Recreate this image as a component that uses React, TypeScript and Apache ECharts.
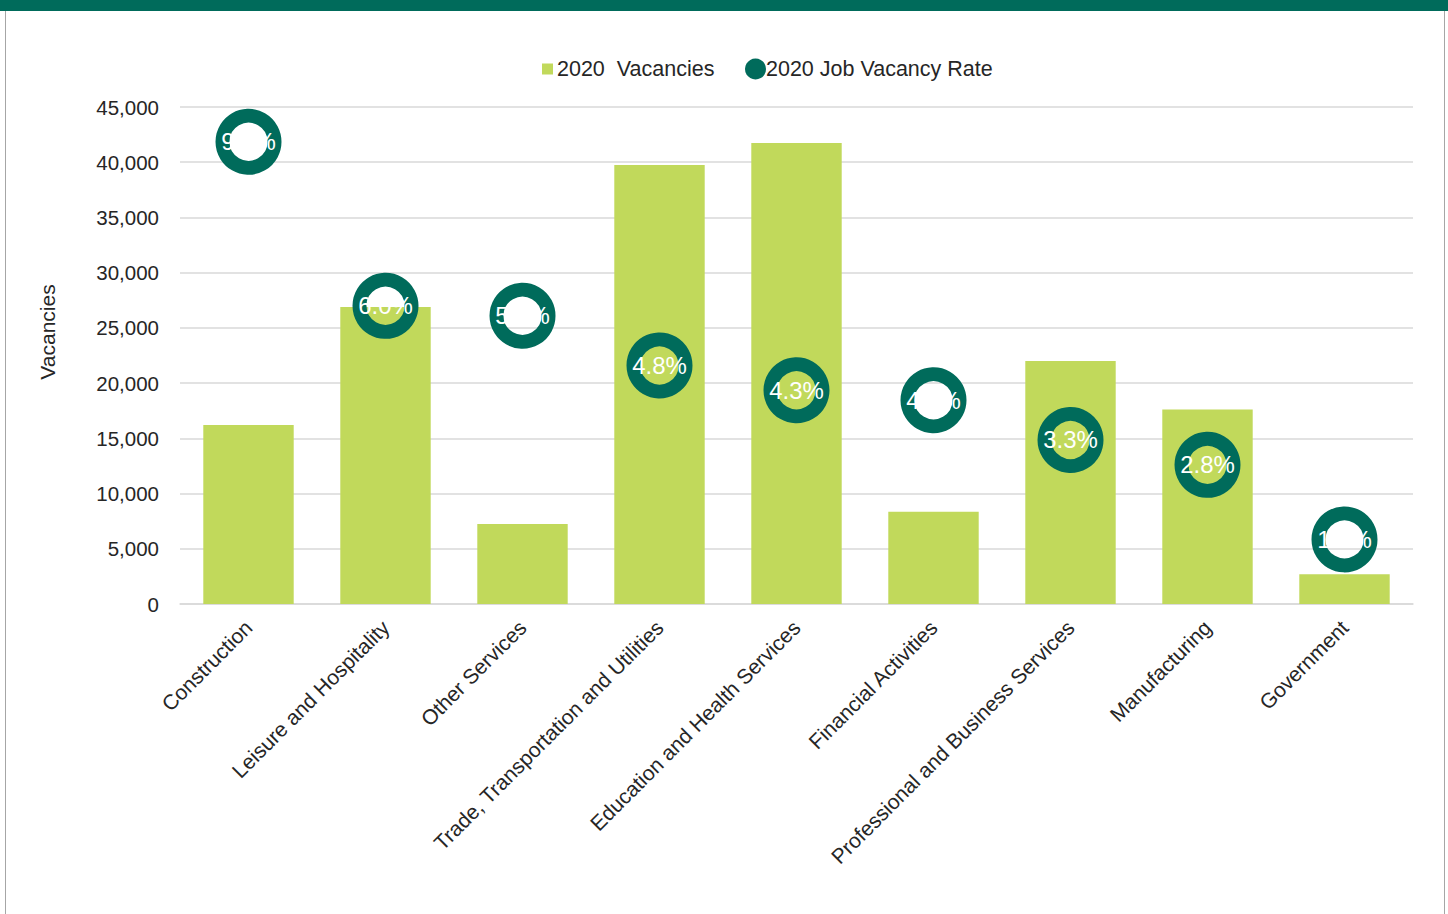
import React, { useEffect, useRef } from "react";
import * as echarts from "echarts";

const categories = [
  "Construction",
  "Leisure and Hospitality",
  "Other Services",
  "Trade, Transportation and Utilities",
  "Education and Health Services",
  "Financial Activities",
  "Professional and Business Services",
  "Manufacturing",
  "Government",
];
const vacancies = [16200, 26900, 7250, 39750, 41750, 8350, 22000, 17600, 2700];
const vacancyRate = [9.3, 6.0, 5.8, 4.8, 4.3, 4.1, 3.3, 2.8, 1.3];
const yTicks = { min: 0, max: 45000, interval: 5000 };

const GREEN = "#006B5B";
const LIME = "#C1D95B";
const FONT = "'Liberation Sans', Arial, sans-serif";

export default function App() {
  const ref = useRef<HTMLDivElement>(null);
  useEffect(() => {
    if (!ref.current) return;
    const chart = echarts.init(ref.current, null, { renderer: "svg" });
    chart.setOption({
      animation: false,
      textStyle: { fontFamily: FONT },
      graphic: [
        { type: "rect", shape: { x: 0, y: 0, width: 1448, height: 11 }, style: { fill: GREEN } },
        { type: "line", shape: { x1: 5.5, y1: 11, x2: 5.5, y2: 914 }, style: { stroke: "#A6A6A6", lineWidth: 1 } },
        { type: "line", shape: { x1: 1444.5, y1: 11, x2: 1444.5, y2: 914 }, style: { stroke: "#A6A6A6", lineWidth: 1 } },
        {
          type: "text",
          x: 47,
          y: 332,
          rotation: Math.PI / 2,
          style: { text: "Vacancies", font: `21px ${FONT}`, fill: "#262626", align: "center", verticalAlign: "middle" },
        },
      ],
      legend: [
        {
          data: [{ name: "2020  Vacancies", icon: "rect" }],
          left: 542,
          top: 58,
          padding: 0,
          itemWidth: 11,
          itemHeight: 11,
          textStyle: { fontSize: 21.5, color: "#262626", fontFamily: FONT, padding: [0, 0, 0, -1] },
        },
        {
          data: [{ name: "2020 Job Vacancy Rate", icon: "circle", itemStyle: { color: GREEN, borderWidth: 0 } }],
          left: 745,
          top: 58,
          padding: 0,
          itemWidth: 21,
          itemHeight: 21,
          textStyle: { fontSize: 21.5, color: "#262626", fontFamily: FONT, padding: [0, 0, 0, -5] },
        },
      ],
      grid: { left: 180, right: 35, top: 107, bottom: 310, containLabel: false },
      xAxis: {
        type: "category",
        data: categories,
        axisLine: { lineStyle: { color: "#D9D9D9", width: 1.5 } },
        axisTick: { show: false },
        axisLabel: { rotate: 45, fontSize: 21, color: "#262626", margin: 20, interval: 0, fontFamily: FONT },
      },
      yAxis: [
        {
          type: "value",
          min: yTicks.min,
          max: yTicks.max,
          interval: yTicks.interval,
          axisLine: { show: false },
          axisTick: { show: false },
          splitLine: { lineStyle: { color: "#D9D9D9", width: 1.5 } },
          axisLabel: {
            fontSize: 20.5,
            color: "#262626",
            margin: 21,
            fontFamily: FONT,
            formatter: (v: number) => v.toLocaleString("en-US"),
          },
        },
        { type: "value", min: 0, max: 10, show: false, splitLine: { show: false } },
      ],
      series: [
        {
          name: "2020  Vacancies",
          type: "bar",
          data: vacancies,
          barWidth: "66%",
          itemStyle: { color: LIME },
        },
        {
          name: "2020 Job Vacancy Rate",
          type: "scatter",
          yAxisIndex: 1,
          data: vacancyRate,
          symbol: "circle",
          symbolSize: 52,
          z: 5,
          itemStyle: { color: "rgba(0,0,0,0)", borderColor: GREEN, borderWidth: 14, opacity: 1 },
          label: {
            show: true,
            position: "inside",
            color: "#FFFFFF",
            fontSize: 24,
            fontFamily: FONT,
            formatter: (p: any) => Number(p.value).toFixed(1) + "%",
          },
        },
      ],
    });
    return () => chart.dispose();
  }, []);
  return (
    <div
      ref={ref}
      style={{ position: "fixed", left: 0, top: 0, width: 1448, height: 914, background: "#fff" }}
    />
  );
}
